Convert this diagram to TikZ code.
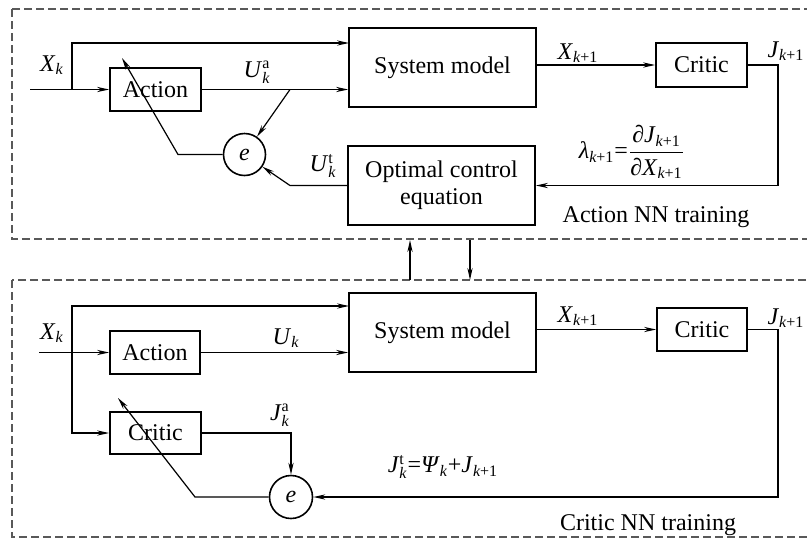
\documentclass[tikz,border=0pt]{standalone}
\usepackage{fontspec}
\setmainfont{Liberation Serif}
\usetikzlibrary{arrows.meta,calc}
\newcommand\ssz{\fontsize{8}{9}\selectfont}
\newcommand\vsub[2]{\textit{#1}\ensuremath{_{\mbox{\ssz #2}}}}
\newcommand\vsym[3]{\textit{#1}\ensuremath{_{\mbox{\ssz #2}}^{\mbox{\ssz #3}}}}
\newcommand\kk{\itshape k}
\newcommand\kp{\itshape k\upshape +1}
\begin{document}
\begin{tikzpicture}[x=0.5pt,y=-0.5pt,
  font=\fontsize{12}{13.5}\selectfont,
  box/.style={draw, line width=0.9pt, inner sep=0pt, align=center},
  sumnode/.style={draw, circle, line width=0.8pt, minimum size=21pt, inner sep=0pt},
  conn/.style={line width=0.6pt},
  arr/.style={conn, -{Stealth[length=6pt,width=2.6pt]}},
  frame/.style={draw=black!65, line width=0.55pt, dash pattern=on 4pt off 2pt},
  lbl/.style={inner sep=0pt}]
\useasboundingbox (0,0) rectangle (807,542);
\clip (0,0) rectangle (807,542);
\fill[white] (0,0) rectangle (807,542);

% frames
\draw[frame] (12,9) rectangle (830,239);
\draw[frame] (12,280) rectangle (830,537);

% ---------- top panel ----------
\node[box, minimum width=45.5pt, minimum height=21.5pt] (act1) at (155.5,89.5) {Action};
\node[box, minimum width=93.5pt, minimum height=39.5pt] (sys1) at (442.5,67.5) {System model};
\node[box, minimum width=45.5pt, minimum height=22pt] (crit1) at (701.5,65) {Critic};
\node[box, minimum width=93.5pt, minimum height=39.5pt] (opt1) at (441.5,185.5) {Optimal control\\equation};
\node[sumnode] (e1) at (244.5,154.5) {\textit{e}};

\coordinate (in1) at (30,89.5);
\coordinate (b1) at (72,89.5);
\coordinate (s1u) at (349,43);
\coordinate (j1) at (290,89.5);
\coordinate (f1a) at (178,154.5);
\coordinate (f1b) at (122,58);
\coordinate (u1t) at (290,185.5);
\coordinate (r1) at (778,65);

\draw[arr] (in1) -- (act1.west);
\draw[arr] (b1) |- (s1u);
\draw[arr] (act1.east) -- (act1.east -| sys1.west);
\draw[arr] (j1) -- (e1);
\draw[arr] (e1.west) -- (f1a) -- (f1b);
\draw[arr] (opt1.west) -- (u1t) -- (e1);
\draw[arr] (crit1.west -| sys1.east) -- (crit1.west);
\draw[arr] (crit1.east) -- (r1) |- (opt1.east);

\node[lbl] (lx1) at (52,65) {\vsub{X}{\kk}};
\node[lbl] (lua) at (257,72) {\vsym{U}{\kk}{a}};
\node[lbl] (lut) at (323,166) {\vsym{U}{\kk}{t}};
\node[lbl] (lxk1) at (578,53) {\vsub{X}{\kp}};
\node[lbl] (ljk1) at (786,51) {\vsub{J}{\kp}};
\node[lbl] (llam) at (632,152) {\vsub{λ}{\kp}=$\displaystyle\frac{\mbox{∂\vsub{J}{\kp}}}{\mbox{∂\vsub{X}{\kp}}}$};
\node[lbl] (ltr1) at (656,217) {Action NN training};

% between panels
\coordinate (up0) at (410,280);
\coordinate (up1) at (410,240);
\coordinate (dn0) at (470,240);
\coordinate (dn1) at (470,280);
\draw[arr] (up0) -- (up1);
\draw[arr] (dn0) -- (dn1);

% ---------- bottom panel ----------
\node[box, minimum width=45pt, minimum height=21.5pt] (act2) at (155,352.5) {Action};
\node[box, minimum width=93.5pt, minimum height=39.5pt] (sys2) at (442.5,332.5) {System model};
\node[box, minimum width=45.5pt, minimum height=21pt] (crit2a) at (155.5,433) {Critic};
\node[box, minimum width=45pt, minimum height=21.5pt] (crit2b) at (702,329.5) {Critic};
\node[sumnode, minimum size=21.5pt] (e2) at (291,497) {\textit{e}};

\coordinate (in2) at (39,352.5);
\coordinate (b2) at (72,352.5);
\coordinate (s2u) at (349,306);
\coordinate (f2a) at (195,497);
\coordinate (f2b) at (118,398);
\coordinate (r2) at (778,329.5);

\draw[arr] (in2) -- (act2.west);
\draw[arr] (b2) |- (s2u);
\draw[arr] (b2) |- (crit2a.west);
\draw[arr] (act2.east) -- (act2.east -| sys2.west);
\draw[arr] (crit2a.east) -| (e2.north);
\draw[arr] (e2.west) -- (f2a) -- (f2b);
\draw[arr] (crit2b.west -| sys2.east) -- (crit2b.west);
\draw[arr] (crit2b.east) -- (r2) |- (e2.east);

\node[lbl] (lx2) at (52,333) {\vsub{X}{\kk}};
\node[lbl] (lu2) at (286,338) {\vsub{U}{\kk}};
\node[lbl] (lja) at (280,415) {\vsym{J}{\kk}{a}};
\node[lbl] (lxk2) at (578,316) {\vsub{X}{\kp}};
\node[lbl] (ljk2) at (786,318) {\vsub{J}{\kp}};
\node[lbl] (ljt) at (443,467) {\vsym{J}{\kk}{t}=\vsub{Ψ}{\kk}+\vsub{J}{\kp}};
\node[lbl] (ltr2) at (648,525) {Critic NN training};
\end{tikzpicture}
\end{document}
